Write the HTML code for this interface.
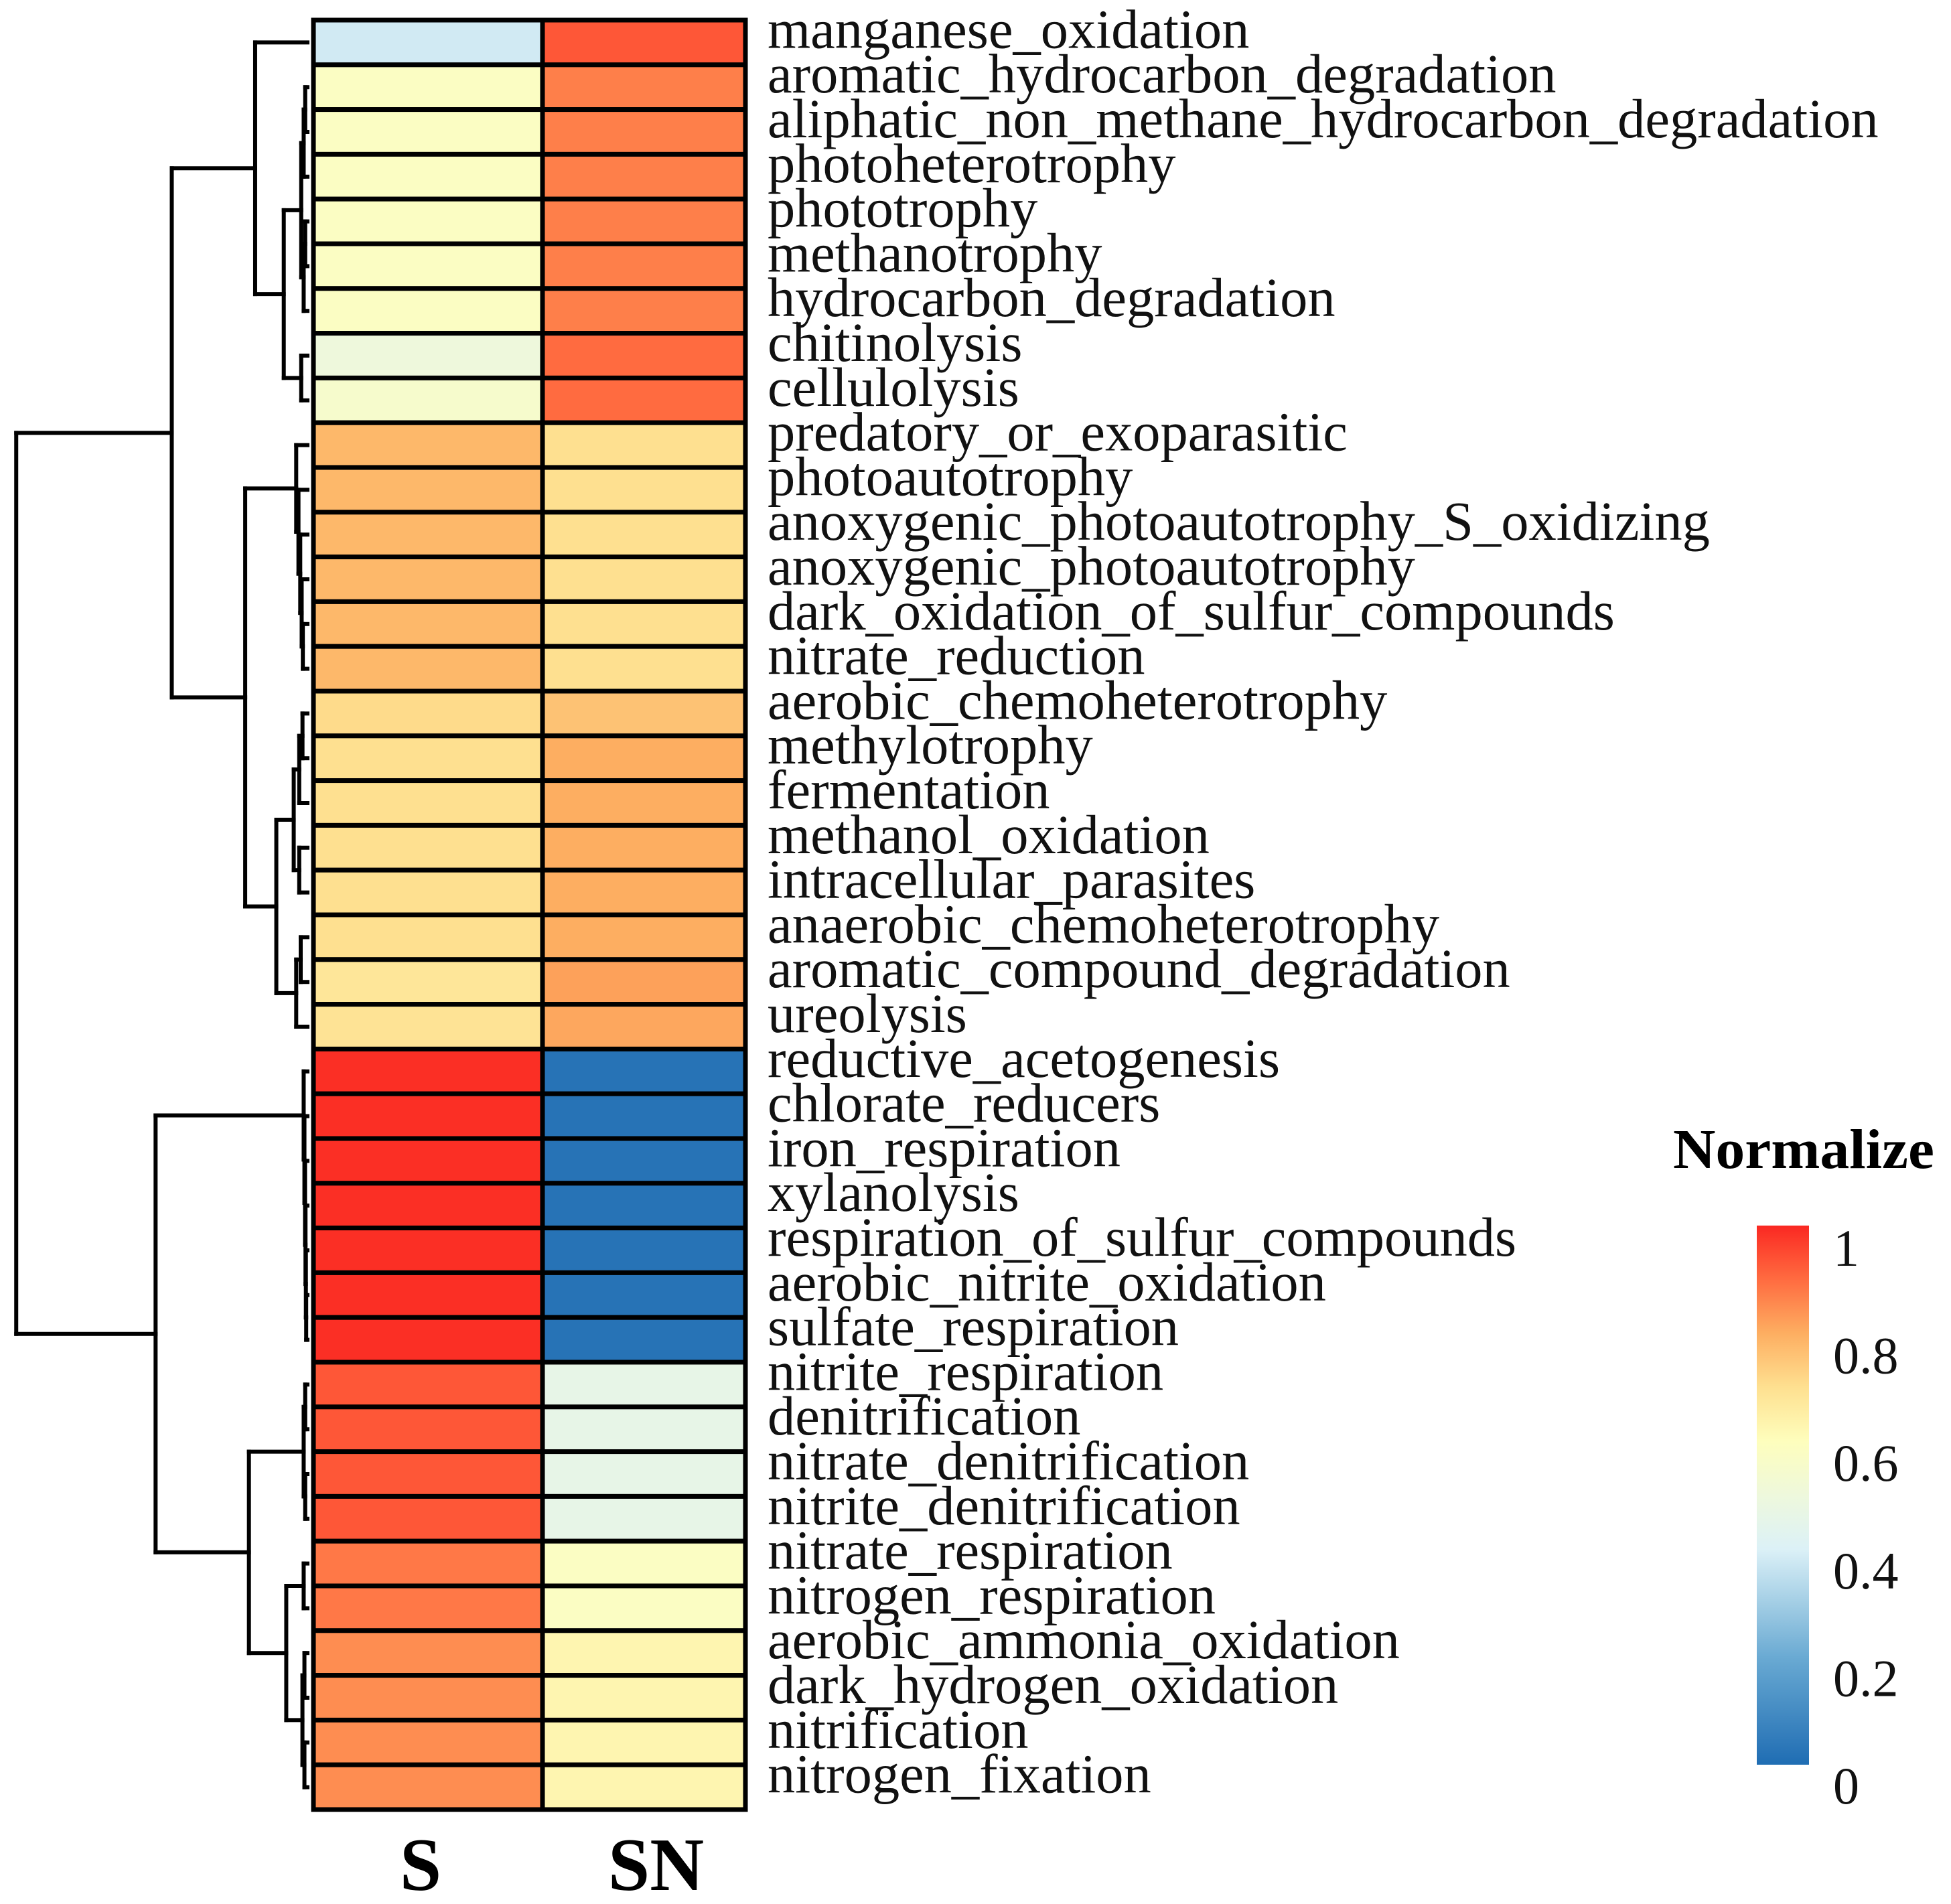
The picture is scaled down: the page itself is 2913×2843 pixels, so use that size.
<!DOCTYPE html>
<html><head><meta charset="utf-8"><style>
html,body{margin:0;padding:0;background:#fff;}
svg{display:block;}
</style></head><body>
<svg id="chart" width="2913" height="2843" viewBox="0 0 2913 2843" xmlns="http://www.w3.org/2000/svg" font-family="'Liberation Serif', serif">
<g id="dendro"></g>
<g id="cells"></g>
<g id="labels"></g>
<g id="cols"></g>
<g id="legend"></g>
</svg>
<script>
const rowNames = ["manganese_oxidation","aromatic_hydrocarbon_degradation","aliphatic_non_methane_hydrocarbon_degradation","photoheterotrophy","phototrophy","methanotrophy","hydrocarbon_degradation","chitinolysis","cellulolysis","predatory_or_exoparasitic","photoautotrophy","anoxygenic_photoautotrophy_S_oxidizing","anoxygenic_photoautotrophy","dark_oxidation_of_sulfur_compounds","nitrate_reduction","aerobic_chemoheterotrophy","methylotrophy","fermentation","methanol_oxidation","intracellular_parasites","anaerobic_chemoheterotrophy","aromatic_compound_degradation","ureolysis","reductive_acetogenesis","chlorate_reducers","iron_respiration","xylanolysis","respiration_of_sulfur_compounds","aerobic_nitrite_oxidation","sulfate_respiration","nitrite_respiration","denitrification","nitrate_denitrification","nitrite_denitrification","nitrate_respiration","nitrogen_respiration","aerobic_ammonia_oxidation","dark_hydrogen_oxidation","nitrification","nitrogen_fixation"];
const colNames = ["S","SN"];
const valuesS = [0.38,0.58,0.58,0.58,0.58,0.58,0.58,0.5,0.55,0.78,0.78,0.78,0.78,0.78,0.78,0.71,0.7,0.7,0.7,0.7,0.7,0.68,0.69,0.99,0.99,0.99,0.99,0.99,0.99,0.99,0.93,0.93,0.93,0.93,0.88,0.88,0.85,0.85,0.85,0.85];
const valuesSN = [0.93,0.87,0.87,0.87,0.87,0.87,0.87,0.9,0.9,0.7,0.7,0.7,0.7,0.7,0.7,0.76,0.8,0.8,0.8,0.8,0.8,0.82,0.81,0.02,0.02,0.02,0.02,0.02,0.02,0.02,0.46,0.46,0.46,0.46,0.58,0.58,0.63,0.63,0.63,0.63];
const legendTicks = [0,0.2,0.4,0.6,0.8,1];
const legendTickLabels = ["0","0.2","0.4","0.6","0.8","1"];
// cluster tree: [rangeStart, rangeEnd, height, mode] leaves or [left, right, height]
const treeSpec = [[[0,[[1,6,5],[7,8,5],19],42],[[9,14,9,'chain'],[[15,19,11],[20,22,9],25],50],109],[[23,29,3,'chain'],[[30,33,3],[[34,35,3],[36,39,4],17],47],122],234];

const NS="http://www.w3.org/2000/svg";
function mk(tag,attrs,parent){const e=document.createElementNS(NS,tag);for(const k in attrs)e.setAttribute(k,attrs[k]);parent.appendChild(e);return e;}
const stops=[[0,[31,109,179]],[0.2,[106,170,211]],[0.4,[220,241,247]],[0.5,[238,248,220]],[0.6,[254,254,189]],[0.7,[254,224,144]],[0.8,[253,174,97]],[0.9,[255,107,64]],[1,[250,40,34]]];
function color(v){v=Math.max(0,Math.min(1,v));for(let i=1;i<stops.length;i++){if(v<=stops[i][0]){const a=stops[i-1],b=stops[i];const t=(v-a[0])/(b[0]-a[0]);const c=a[1].map((x,j)=>Math.round(x+(b[1][j]-x)*t));return `rgb(${c[0]},${c[1]},${c[2]})`;}}return 'rgb(250,40,34)';}

const top0=30,bottom0=2702,left0=468,right0=1113,divX=810;
const n=rowNames.length, rowH=(bottom0-top0)/n;
const colEdges=[left0,divX,right0];
const colLabelShift=[-11,18];
const yRow=i=>top0+rowH*(i+0.5);

const cells=document.getElementById('cells');
const cols=[valuesS,valuesSN];
cols.forEach((vals,j)=>{vals.forEach((v,i)=>{
  const r=mk('rect',{x:colEdges[j],y:top0+rowH*i,width:colEdges[j+1]-colEdges[j],height:rowH,fill:color(v),stroke:'#000','stroke-width':7},cells);
  
  
});});
mk('rect',{x:left0,y:top0,width:right0-left0,height:bottom0-top0,fill:'none',stroke:'#000','stroke-width':7},cells);

const labels=document.getElementById('labels');
rowNames.forEach((nm,i)=>{
  const t=mk('text',{x:1146,y:yRow(i)+8,'font-size':82.5,fill:'#111'},labels);
  t.textContent=nm;
  
  
});
const colsG=document.getElementById('cols');
colNames.forEach((c,j)=>{
  const t=mk('text',{x:(colEdges[j]+colEdges[j+1])/2+colLabelShift[j],y:2822,'font-size':112,'font-weight':'bold','text-anchor':'middle',fill:'#000'},colsG);
  t.textContent=c;
  
  
});

// dendrogram
const dG=document.getElementById('dendro');
const leafX=459, hScale=1.858;
const xH=h=>leafX-h*hScale;
function line(x1,y1,x2,y2){const l=mk('line',{x1,y1,x2,y2,stroke:'#000','stroke-width':6,'stroke-linecap':'square'},dG);}
function buildRange(lo,hi,h){
  if(lo===hi) return {y:yRow(lo),h:0};
  const mid=Math.floor((lo+hi)/2);
  const a=buildRange(lo,mid,h*0.6), b=buildRange(mid+1,hi,h*0.6);
  return join(a,b,h);
}
function buildChain(lo,hi,h){
  if(lo===hi) return {y:yRow(lo),h:0};
  const a={y:yRow(lo),h:0}, b=buildChain(lo+1,hi,h*0.8);
  return join(a,b,h);
}
function join(a,b,h){
  const x=xH(h);
  line(x,a.y,x,b.y);line(x,a.y,xH(a.h),a.y);line(x,b.y,xH(b.h),b.y);
  return {y:(a.y+b.y)/2,h};
}
function walk(s){
  if(typeof s==='number') return {y:yRow(s),h:0};
  if(typeof s[0]==='number'&&typeof s[1]==='number') return s[3]==='chain'?buildChain(s[0],s[1],s[2]):buildRange(s[0],s[1],s[2]);
  const a=walk(s[0]),b=walk(s[1]);return join(a,b,s[2]);
}
walk(treeSpec);

// legend
const lg=document.getElementById('legend');
const title=mk('text',{x:2498,y:1744,'font-size':84,'font-weight':'bold',textLength:390,lengthAdjust:'spacingAndGlyphs',fill:'#000'},lg);
title.textContent='Normalize';


const defs=mk('defs',{},lg);
const grad=mk('linearGradient',{id:'cg',x1:0,y1:1,x2:0,y2:0},defs);
for(let k=0;k<=20;k++){mk('stop',{offset:k/20,'stop-color':color(k/20)},grad);}
const bar=mk('rect',{x:2623,y:1830,width:78,height:805,fill:'url(#cg)'},lg);


const yLeg=v=>2666-v*803;
legendTicks.forEach((v,k)=>{
  const t=mk('text',{x:2737,y:yLeg(v)+27,'font-size':78,fill:'#111'},lg);
  t.textContent=legendTickLabels[k];
  
  
});
</script>
</body></html>
